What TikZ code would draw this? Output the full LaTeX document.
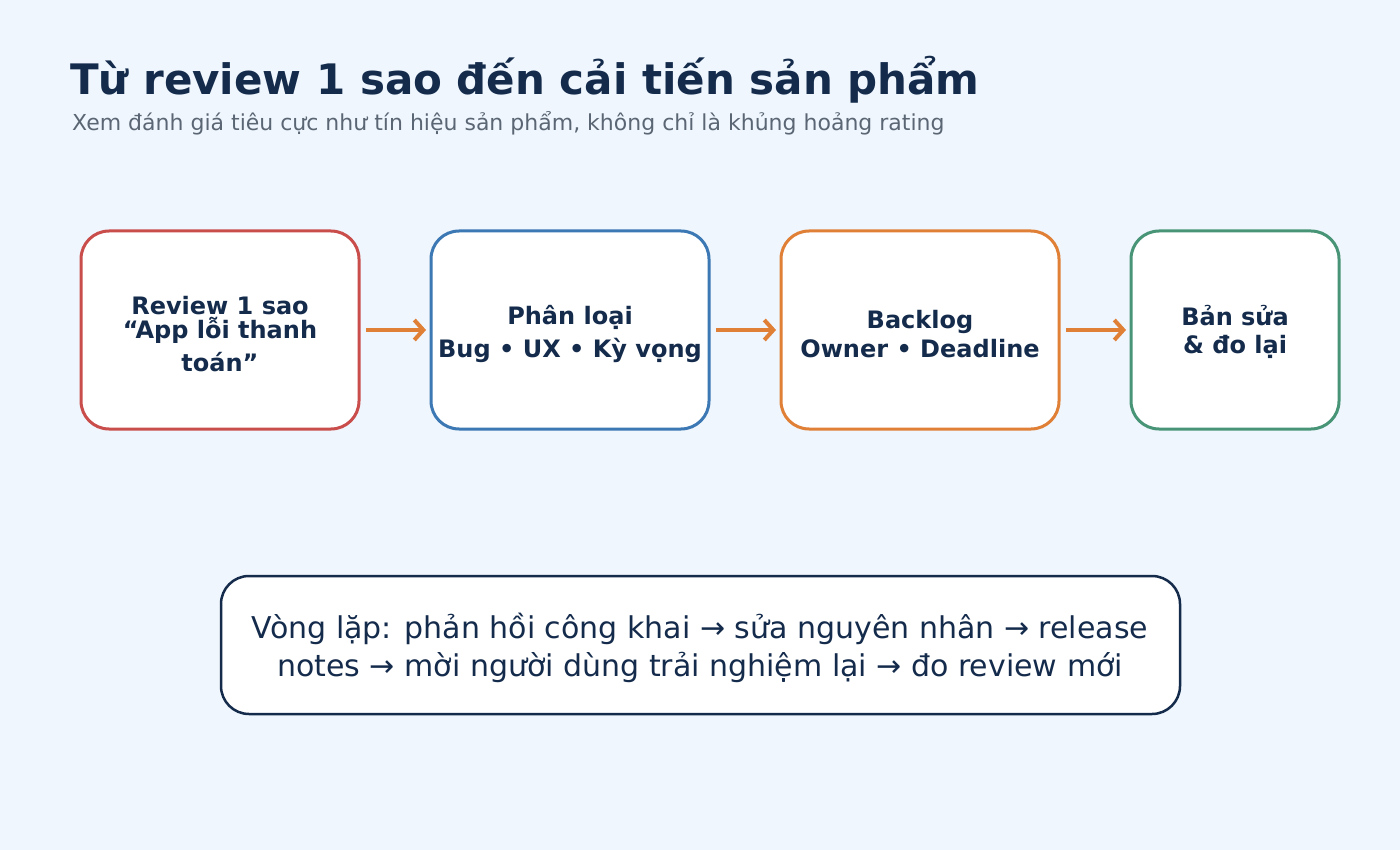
\documentclass[tikz,border=0pt]{standalone}
\usepackage{fontspec}
\setmainfont{DejaVu Sans}
\usetikzlibrary{arrows.meta}
\definecolor{bg}{HTML}{EFF6FD}
\definecolor{ink}{HTML}{142B4C}
\definecolor{sub}{HTML}{5B6675}
\definecolor{cred}{HTML}{C94D4B}
\definecolor{cblue}{HTML}{3B78B4}
\definecolor{corange}{HTML}{E07F36}
\definecolor{cgreen}{HTML}{489477}
\tikzset{
  box/.style={draw, line width=3pt, fill=white, rounded corners=28pt, minimum width=#1, minimum height=198pt, inner sep=0pt, outer sep=0pt},
  lbl/.style={text=ink, font=\fontsize{24}{28}\selectfont\bfseries, anchor=base, inner sep=0pt},
  loop/.style={text=ink, font=\fontsize{30}{34}\selectfont, anchor=base, inner sep=0pt},
  arr/.style={draw=corange, line width=4pt, -{Straight Barb[length=9pt,width=20pt,line width=4pt]}, shorten <=7pt, shorten >=5pt}
}
\begin{document}
\begin{tikzpicture}[x=1pt,y=-1pt]
\useasboundingbox[fill=bg] (0,0) rectangle (1400,850);
\node[text=ink, font=\fontsize{42}{48}\selectfont\bfseries, anchor=base west, inner sep=0pt] (title) at (70,95) {Từ review 1 sao đến cải tiến sản phẩm};
\node[text=sub, font=\fontsize{22}{26}\selectfont, anchor=base west, inner sep=0pt] (subtitle) at (72,131) {Xem đánh giá tiêu cực như tín hiệu sản phẩm, không chỉ là khủng hoảng rating};

\node[box=278pt, draw=cred] (b1) at (220,330) {};
\node[box=278pt, draw=cblue] (b2) at (570,330) {};
\node[box=278pt, draw=corange] (b3) at (920,330) {};
\node[box=208pt, draw=cgreen] (b4) at (1235,330) {};

\node[lbl] (t1a) at (220,315) {Review 1 sao};
\node[lbl] (t1b) at (220,338) {“App lỗi thanh};
\node[lbl] (t1c) at (220,371) {toán”};
\node[lbl] (t2a) at (570,324) {Phân loại};
\node[lbl] (t2b) at (570,357) {Bug • UX • Kỳ vọng};
\node[lbl] (t3a) at (920,328) {Backlog};
\node[lbl] (t3b) at (920,357) {Owner • Deadline};
\node[lbl] (t4a) at (1235,326) {Bản sửa};
\node[lbl] (t4b) at (1235,353) {\& đo lại};

\draw[arr] (b1) -- (b2);
\draw[arr] (b2) -- (b3);
\draw[arr] (b3) -- (b4);

\node[draw=ink, line width=2.5pt, fill=white, rounded corners=28pt, minimum width=959pt, minimum height=138pt, inner sep=0pt] (loopbox) at (700.5,645) {};
\node[loop] (l1) at (700,638) {Vòng lặp: phản hồi công khai → sửa nguyên nhân → release};
\node[loop] (l2) at (700,676) {notes → mời người dùng trải nghiệm lại → đo review mới};
\end{tikzpicture}
\end{document}
